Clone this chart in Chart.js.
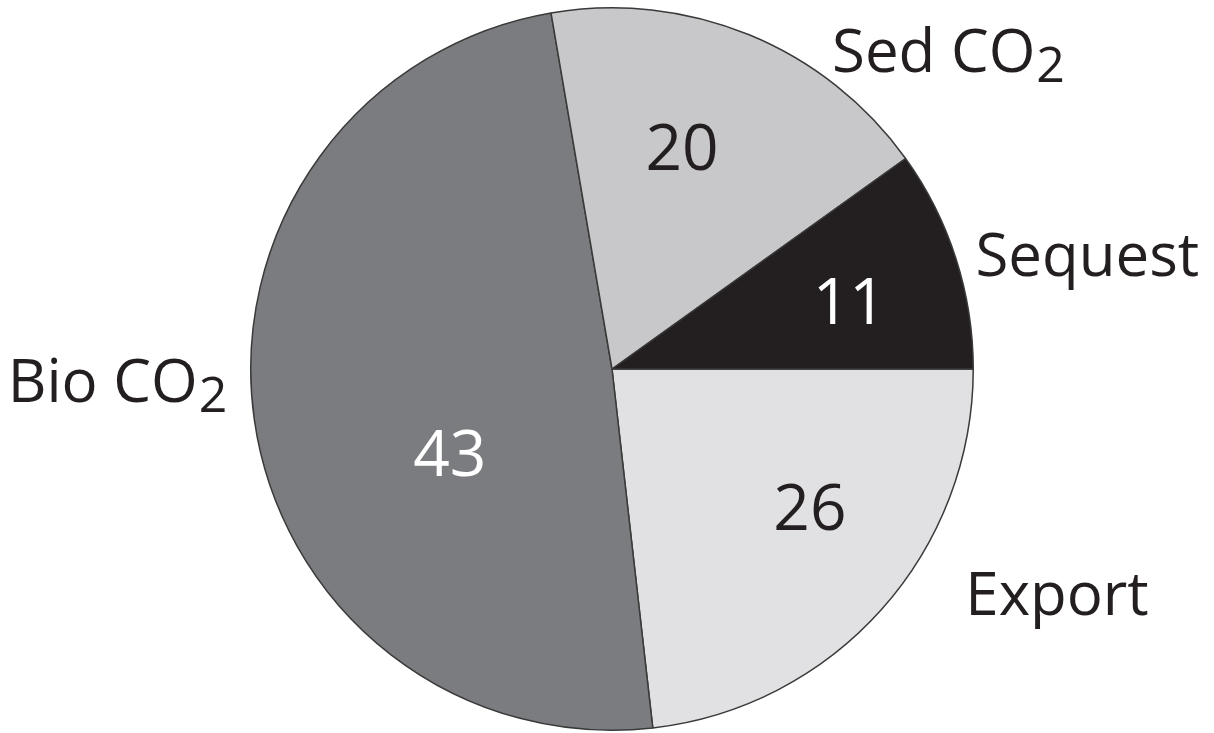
<!DOCTYPE html>
<html>
<head>
<meta charset="utf-8">
<script src="https://cdn.jsdelivr.net/npm/chart.js@4"></script>
<style>
  html, body { margin: 0; padding: 0; background: #fff; }
  #wrap { width: 1214px; height: 733px; position: relative; }
</style>
</head>
<body>
<div id="wrap"><canvas id="pie"></canvas></div>
<script>
// categories, clockwise from 3 o'clock
const categories = ['Export', 'Bio CO₂', 'Sed CO₂', 'Sequest'];
// numbers printed inside the slices
const printedValues = [26, 43, 20, 11];
// share of the circle each slice takes in the picture (%)
const sliceShares = [23.2, 49.1, 17.8, 9.9];
const sliceColors = ['#e1e1e3', '#7b7c7f', '#c8c8ca', '#231f20'];
const numberColors = ['#231f20', '#ffffff', '#231f20', '#ffffff'];

// label placement relative to pie centre, in units of the radius
const nameOffsets = [[0.978, 0.681], [-1.673, 0.091], [0.609, -0.823], [1.006, -0.258]];
const numberOffsets = [[0.548, 0.446], [-0.449, 0.296], [0.194, -0.551], [0.657, -0.125]];

const FONT = '"Open Sans", "Noto Sans", sans-serif';

// draw text, with "₂" rendered as a lowered digit
function drawName(ctx, text, x, y) {
  const parts = text.split('₂');
  ctx.font = '60px ' + FONT;
  ctx.textAlign = 'left';
  ctx.textBaseline = 'alphabetic';
  ctx.fillText(parts[0], x, y);
  if (parts.length > 1) {
    const w = ctx.measureText(parts[0]).width;
    ctx.font = '50px ' + FONT;
    ctx.fillText('2', x + w + 1, y + 10);
  }
}

const pieLabels = {
  id: 'pieLabels',
  afterDatasetsDraw(chart) {
    const ctx = chart.ctx;
    const arcs = chart.getDatasetMeta(0).data;
    if (!arcs.length) return;
    const cx = arcs[0].x, cy = arcs[0].y, r = arcs[0].outerRadius;
    ctx.save();
    ctx.fillStyle = '#231f20';
    categories.forEach((name, i) => {
      drawName(ctx, name, cx + nameOffsets[i][0] * r, cy + nameOffsets[i][1] * r);
    });
    ctx.font = '64px ' + FONT;
    ctx.textAlign = 'center';
    ctx.textBaseline = 'alphabetic';
    printedValues.forEach((v, i) => {
      ctx.fillStyle = numberColors[i];
      ctx.fillText(String(v), cx + numberOffsets[i][0] * r, cy + numberOffsets[i][1] * r);
    });
    ctx.restore();
  }
};

new Chart(document.getElementById('pie'), {
  type: 'pie',
  data: {
    labels: categories,
    datasets: [{
      data: sliceShares,
      backgroundColor: sliceColors,
      borderColor: '#3a3a3a',
      borderWidth: 1.5,
      hoverOffset: 0
    }]
  },
  options: {
    responsive: true,
    maintainAspectRatio: false,
    animation: false,
    rotation: 90,
    layout: { padding: { top: 7, bottom: 2, left: 10, right: 0 } },
    plugins: {
      legend: { display: false },
      tooltip: { enabled: false }
    }
  },
  plugins: [pieLabels]
});
</script>
</body>
</html>
